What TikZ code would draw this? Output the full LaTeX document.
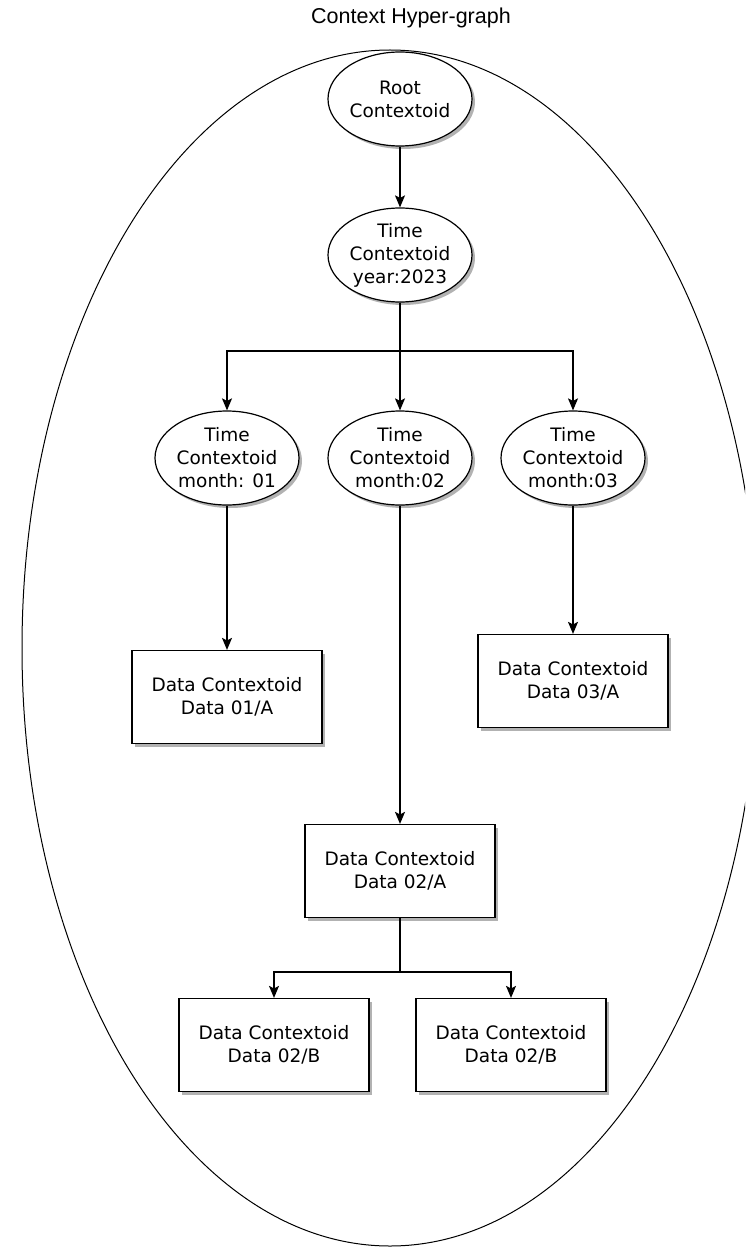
\documentclass[tikz,border=0pt]{standalone}
\usepackage{fontspec}
\setmainfont{DejaVu Sans}
\newfontfamily\titlefont{Liberation Sans}
\usepackage{tikz}
\usetikzlibrary{shapes.geometric, arrows.meta, positioning, calc, shadows}

\begin{document}
\begin{tikzpicture}[x=1pt, y=-1pt,
  every node/.style={font=\fontsize{18.5}{23}\selectfont, align=center},
  ctxshadow/.style={drop shadow={shadow xshift=3pt, shadow yshift=-3pt, fill=black, opacity=0.3}},
  timenode/.style={ellipse, draw, line width=1.2pt, fill=white, inner sep=0pt,
                   minimum width=144pt, minimum height=94pt, ctxshadow},
  datanode/.style={rectangle, draw, line width=1.2pt, fill=white,
                   minimum width=190pt, minimum height=93pt, ctxshadow},
  link/.style={-{Stealth[length=12pt, width=10pt, inset=2.5pt]}, line width=1.2pt}]
  \useasboundingbox (0,0) rectangle (745,1249);
  \clip (0,0) rectangle (745,1249);

  % Hyper-graph
  \node[ellipse, draw, line width=1pt, inner sep=0pt, minimum width=736pt, minimum height=1196pt] (hyper) at (390,648) {};
  \node[font=\titlefont\fontsize{21.5}{25}\selectfont] (title) at (411,18) {Context Hyper-graph};

  % Time contextoids
  \node[timenode] (root) at (400,99) {Root\\Contextoid};
  \node[timenode] (year) at (400,255) {Time\\Contextoid\\year:2023};
  \node[timenode] (m1) at (227,458) {Time\\Contextoid\\month: 01};
  \node[timenode] (m2) at (400,458) {Time\\Contextoid\\month:02};
  \node[timenode] (m3) at (573,458) {Time\\Contextoid\\month:03};

  % Data contextoids
  \node[datanode] (d1a) at (227,697) {Data Contextoid\\Data 01/A};
  \node[datanode] (d3a) at (573,681) {Data Contextoid\\Data 03/A};
  \node[datanode] (d2a) at (400,871) {Data Contextoid\\Data 02/A};
  \node[datanode] (d2b1) at (274,1045) {Data Contextoid\\Data 02/B};
  \node[datanode] (d2b2) at (511,1045) {Data Contextoid\\Data 02/B};

  % Links
  \coordinate (split1) at (400,351);
  \coordinate (split2) at (400,972);
  \draw[link] (root) -- (year);
  \draw[link] (year.south) -- (m2.north);
  \draw[link] (year.south) -- (split1) -| (m1.north);
  \draw[link] (year.south) -- (split1) -| (m3.north);
  \draw[link] (m1) -- (d1a);
  \draw[link] (m2) -- (d2a);
  \draw[link] (m3) -- (d3a);
  \draw[link] (d2a.south) -- (split2) -| (d2b1.north);
  \draw[link] (d2a.south) -- (split2) -| (d2b2.north);
\end{tikzpicture}
\end{document}
